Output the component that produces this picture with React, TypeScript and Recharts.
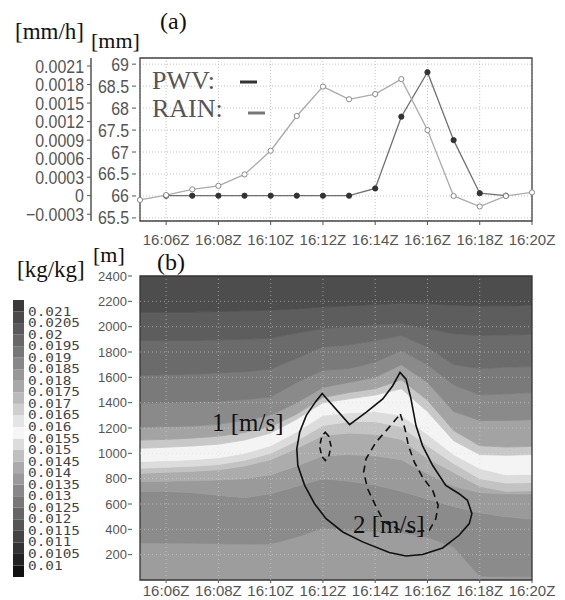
import React from "react";
import {
  Bar,
  BarChart,
  Area,
  CartesianGrid,
  ComposedChart,
  Line,
  ReferenceArea,
  ReferenceLine,
  Scatter,
  XAxis,
  YAxis,
} from "recharts";

// minutes after 16:00
const MINUTES = [5, 6, 7, 8, 9, 10, 11, 12, 13, 14, 15, 16, 17, 18, 19, 20];
const TIME_TICKS = [6, 8, 10, 12, 14, 16, 18, 20];

// panel (a)
const PWV_MM = [65.91, 66.02, 66.15, 66.23, 66.49, 67.03, 67.82, 68.49, 68.2, 68.32, 68.66, 67.5, 66.0, 65.76, 66.0, 66.08];
const RAIN_MMH = [null, 0, 0, 0, 0, 0, 0, 0, 0, 0.000117, 0.00128, 0.002, 0.0009, 0.00004, 0, null];
const PWV_TICKS = [65.5, 66, 66.5, 67, 67.5, 68, 68.5, 69];
const RAIN_TICKS = [-0.0003, 0, 0.0003, 0.0006, 0.0009, 0.0012, 0.0015, 0.0018, 0.0021];
const PWV_DOMAIN = [65.43, 69.14];
const RAIN_DOMAIN = [-0.00041, 0.00223];

// panel (b): heights [m] of the shading boundaries, bottom to top
const HEIGHT_TICKS = [200, 400, 600, 800, 1000, 1200, 1400, 1600, 1800, 2000, 2200, 2400];
const Q_B1 = [293, 292, 290, 287, 283, 285, 340, 410, 390, 385, 375, 340, 260, 30, 25, 25];
const Q_B2 = [700, 700, 690, 670, 650, 680, 740, 800, 780, 750, 700, 640, 580, 530, 500, 480];
const Q_L4 = [777, 780, 785, 790, 800, 830, 900, 980, 990, 980, 950, 840, 740, 690, 680, 680];
const Q_L3 = [843, 850, 858, 870, 900, 950, 1040, 1140, 1160, 1150, 1110, 960, 850, 740, 700, 705];
const Q_L2 = [882, 890, 898, 912, 945, 1000, 1100, 1220, 1250, 1250, 1210, 1060, 920, 800, 765, 770];
const Q_L1 = [935, 942, 950, 965, 1000, 1060, 1170, 1300, 1320, 1330, 1300, 1150, 990, 880, 830, 835];
const Q_U7 = [1040, 1048, 1058, 1072, 1105, 1160, 1270, 1400, 1430, 1460, 1510, 1330, 1100, 990, 985, 990];
const Q_U6 = [1105, 1110, 1120, 1135, 1165, 1210, 1310, 1440, 1480, 1510, 1580, 1420, 1180, 1060, 1050, 1055];
const Q_U5 = [1205, 1210, 1215, 1230, 1260, 1300, 1400, 1520, 1560, 1600, 1700, 1560, 1330, 1260, 1260, 1265];
const Q_U4 = [1395, 1400, 1405, 1410, 1425, 1445, 1560, 1655, 1670, 1720, 1810, 1700, 1540, 1460, 1470, 1480];
const Q_U3 = [1615, 1620, 1625, 1635, 1645, 1665, 1750, 1840, 1855, 1890, 1930, 1840, 1700, 1670, 1680, 1685];
const Q_U2 = [1890, 1890, 1890, 1895, 1900, 1910, 1950, 1985, 2000, 2015, 2025, 1985, 1945, 1930, 1935, 1940];
const Q_U1 = [2115, 2115, 2115, 2120, 2125, 2130, 2140, 2155, 2165, 2175, 2185, 2180, 2170, 2165, 2165, 2170];
const BOUNDS = [Q_B1, Q_B2, Q_L4, Q_L3, Q_L2, Q_L1, Q_U7, Q_U6, Q_U5, Q_U4, Q_U3, Q_U2, Q_U1];
const BAND_COLORS = [
  "#9d9d9d", "#8b8b8b", "#9a9a9a", "#acacac", "#c3c3c3", "#dcdcdc", "#f4f4f4",
  "#c8c8c8", "#a3a3a3", "#8a8a8a", "#7a7a7a", "#6b6b6b", "#5d5d5d", "#4d4d4d",
];

// wind speed contours (t = minutes after 16:00, h = m)
const WIND_1MS = [
  { t: 11.97, h: 1473 }, { t: 13.02, h: 1227 }, { t: 13.65, h: 1324 }, { t: 14.29, h: 1429 },
  { t: 14.67, h: 1534 }, { t: 14.95, h: 1639 }, { t: 15.18, h: 1586 }, { t: 15.37, h: 1429 },
  { t: 15.56, h: 1219 }, { t: 15.81, h: 1061 }, { t: 16.2, h: 904 }, { t: 16.7, h: 747 },
  { t: 17.21, h: 681 }, { t: 17.53, h: 629 }, { t: 17.7, h: 524 }, { t: 17.6, h: 445 },
  { t: 17.21, h: 353 }, { t: 16.58, h: 253 }, { t: 15.81, h: 201 }, { t: 15.18, h: 190 },
  { t: 14.54, h: 217 }, { t: 13.52, h: 301 }, { t: 12.76, h: 379 }, { t: 12.12, h: 484 },
  { t: 11.68, h: 602 }, { t: 11.3, h: 747 }, { t: 11.04, h: 904 }, { t: 11.0, h: 1035 },
  { t: 11.11, h: 1166 }, { t: 11.36, h: 1298 }, { t: 11.72, h: 1408 },
];
const WIND_2MS = [
  { t: 14.96, h: 1311 }, { t: 15.14, h: 1193 }, { t: 15.27, h: 1061 }, { t: 15.5, h: 930 },
  { t: 15.81, h: 812 }, { t: 16.2, h: 707 }, { t: 16.41, h: 589 }, { t: 16.32, h: 484 },
  { t: 16.07, h: 392 }, { t: 15.5, h: 380 }, { t: 14.98, h: 392 }, { t: 14.35, h: 458 },
  { t: 14.07, h: 563 }, { t: 13.71, h: 720 }, { t: 13.56, h: 852 }, { t: 13.65, h: 957 },
  { t: 14.03, h: 1088 }, { t: 14.48, h: 1193 }, { t: 14.8, h: 1271 },
];
const WIND_2MS_SMALL = [
  { t: 12.09, h: 1167 }, { t: 12.22, h: 1135 }, { t: 12.31, h: 1055 }, { t: 12.22, h: 975 },
  { t: 12.09, h: 943 }, { t: 11.96, h: 975 }, { t: 11.87, h: 1055 }, { t: 11.96, h: 1135 },
];

// colour bar, bottom to top
const CBAR_LABELS = [
  "0.01", "0.0105", "0.011", "0.0115", "0.012", "0.0125", "0.013", "0.0135", "0.014", "0.0145",
  "0.015", "0.0155", "0.016", "0.0165", "0.017", "0.0175", "0.018", "0.0185", "0.019", "0.0195",
  "0.02", "0.0205", "0.021",
];
const CBAR_COLORS = [
  "#111111", "#222222", "#333333", "#444444", "#555555", "#666666", "#777777", "#888888",
  "#9a9a9a", "#ababab", "#c0c0c0", "#dcdcdc", "#f6f6f6", "#e4e4e4", "#cecece", "#bababa",
  "#a8a8a8", "#979797", "#878787", "#777777", "#686868", "#595959", "#4a4a4a", "#3a3a3a",
];

const SANS = "'Liberation Sans', Arial, sans-serif";
const SERIF = "'Liberation Serif', 'Times New Roman', serif";
const AXIS_GREY = "#555";

const fmtTime = (v: number) => `16:${String(v).padStart(2, "0")}Z`;
const fmtRain = (v: number) => (v === 0 ? "0" : v < 0 ? "\u2212" + Math.abs(v).toFixed(4) : v.toFixed(4));

function SideTick(props: any) {
  const { x, y, payload, gap, len, pad, size, sx, fmt } = props;
  const label = fmt ? fmt(payload.value) : String(payload.value);
  return (
    <g>
      <line x1={x - gap - len} x2={x - gap} y1={y} y2={y} stroke={AXIS_GREY} strokeWidth={1} />
      <text
        x={0}
        y={0}
        transform={`translate(${x - gap - len - pad},${y}) scale(${sx},1)`}
        textAnchor="end"
        dominantBaseline="central"
        fontSize={size}
        fontFamily={SANS}
        fill={AXIS_GREY}
      >
        {label}
      </text>
    </g>
  );
}

function NoDot() {
  return <g />;
}

function CbarTick(props: any) {
  const { x, y, payload } = props;
  return (
    <text
      x={0}
      y={0}
      transform={`translate(${x + 4},${y}) scale(1.2,1)`}
      dominantBaseline="central"
      fontSize={12}
      fontFamily="'DejaVu Sans Mono', monospace"
      fill="#444"
    >
      {CBAR_LABELS[payload.value - 1]}
    </text>
  );
}

function TopChart() {
  const data = MINUTES.map((t, i) => ({ t, pwv: PWV_MM[i], rain: RAIN_MMH[i] }));
  return (
    <ComposedChart width={565} height={252} data={data} margin={{ top: 58, right: 33, bottom: 0, left: 0 }}>
      <CartesianGrid yAxisId="mm" stroke="#c4c4c4" strokeDasharray="1 2" />
      <XAxis
        dataKey="t"
        type="number"
        domain={[5, 20]}
        ticks={TIME_TICKS}
        interval={0}
        tickFormatter={fmtTime}
        axisLine={false}
        tickSize={4}
        tickMargin={9}
        tickLine={{ stroke: AXIS_GREY }}
        tick={{ fontSize: 15, fill: AXIS_GREY, fontFamily: SANS }}
        height={31}
      />
      <YAxis
        yAxisId="mm"
        domain={PWV_DOMAIN}
        ticks={PWV_TICKS}
        interval={0}
        allowDataOverflow
        width={49}
        axisLine={false}
        tickLine={false}
        tickSize={0}
        tickMargin={0}
        tick={(p: any) => <SideTick {...p} gap={4} len={4} pad={3} size={19} sx={0.84} />}
      />
      <YAxis
        yAxisId="mmh"
        domain={RAIN_DOMAIN}
        ticks={RAIN_TICKS}
        interval={0}
        allowDataOverflow
        width={91}
        axisLine={{ stroke: AXIS_GREY, strokeWidth: 1.5 }}
        tickLine={false}
        tickSize={0}
        tickMargin={0}
        tick={(p: any) => <SideTick {...p} gap={0} len={4} pad={3} size={19} sx={0.84} fmt={fmtRain} />}
      />
      <ReferenceArea yAxisId="mm" x1={5} x2={20} y1={PWV_DOMAIN[0]} y2={PWV_DOMAIN[1]} fill="none" stroke="#444" strokeWidth={1.3} />
      <Line
        yAxisId="mmh"
        dataKey="rain"
        stroke="#707070"
        strokeWidth={1.3}
        dot={{ r: 2.6, fill: "#333", stroke: "#333", strokeWidth: 1 }}
        isAnimationActive={false}
      />
      <Line
        yAxisId="mm"
        dataKey="pwv"
        stroke="#aaaaaa"
        strokeWidth={1.3}
        dot={{ r: 2.6, fill: "#fff", stroke: "#888", strokeWidth: 1 }}
        isAnimationActive={false}
      />
    </ComposedChart>
  );
}

function BottomChart() {
  const data = MINUTES.map((t, i) => {
    const row: any = { t };
    BOUNDS.forEach((b, k) => {
      row[`b${k}`] = b[i];
    });
    return row;
  });
  const last = BAND_COLORS.length - 1;
  return (
    <ComposedChart width={565} height={350} data={data} margin={{ top: 26, right: 33, bottom: 0, left: 0 }}>
      <XAxis
        dataKey="t"
        type="number"
        domain={[5, 20]}
        ticks={TIME_TICKS}
        interval={0}
        tickFormatter={fmtTime}
        axisLine={false}
        tickSize={3}
        tickMargin={2}
        tickLine={{ stroke: AXIS_GREY }}
        tick={{ fontSize: 15, fill: AXIS_GREY, fontFamily: SANS }}
        height={20}
      />
      <YAxis
        domain={[0, 2400]}
        ticks={HEIGHT_TICKS}
        interval={0}
        allowDataOverflow
        width={140}
        axisLine={false}
        tickLine={false}
        tickSize={0}
        tickMargin={0}
        tick={(p: any) => <SideTick {...p} gap={8} len={4} pad={1} size={13} sx={1} />}
      />
      {BAND_COLORS.map((c, k) => (
        <Area
          key={k}
          dataKey={(r: any) => [k === 0 ? 0 : r[`b${k - 1}`], k === last ? 2400 : r[`b${k}`]]}
          type="linear"
          stroke={c}
          strokeWidth={0.8}
          fill={c}
          fillOpacity={1}
          dot={false}
          activeDot={false}
          isAnimationActive={false}
        />
      ))}
      {TIME_TICKS.filter((v) => v < 20).map((v) => (
        <ReferenceLine key={`x${v}`} x={v} stroke="#dddddd" strokeOpacity={0.55} strokeDasharray="1 3" />
      ))}
      {HEIGHT_TICKS.filter((v) => v < 2400).map((v) => (
        <ReferenceLine key={`y${v}`} y={v} stroke="#dddddd" strokeOpacity={0.55} strokeDasharray="1 3" />
      ))}
      <Scatter
        data={WIND_1MS}
        dataKey="h"
        fill="#111"
        line={{ stroke: "#111", strokeWidth: 1.6 }}
        lineJointType="linearClosed"
        shape={<NoDot />}
        isAnimationActive={false}
      />
      <Scatter
        data={WIND_2MS}
        dataKey="h"
        fill="#111"
        line={{ stroke: "#111", strokeWidth: 1.6, strokeDasharray: "7 5" }}
        lineJointType="linearClosed"
        shape={<NoDot />}
        isAnimationActive={false}
      />
      <Scatter
        data={WIND_2MS_SMALL}
        dataKey="h"
        fill="#111"
        line={{ stroke: "#111", strokeWidth: 1.6, strokeDasharray: "6 4" }}
        lineJointType="linearClosed"
        shape={<NoDot />}
        isAnimationActive={false}
      />
      <ReferenceArea x1={5} x2={20} y1={0} y2={2400} fill="none" stroke="#333" strokeWidth={1.3} />
    </ComposedChart>
  );
}

function ColorBar() {
  const row: any = {};
  CBAR_COLORS.forEach((_, i) => {
    row[`s${i}`] = 1;
  });
  return (
    <BarChart width={100} height={300} data={[row]} margin={{ top: 10, right: 0, bottom: 13, left: 13 }} barCategoryGap={0}>
      <XAxis hide />
      <YAxis
        orientation="right"
        domain={[0, 24]}
        ticks={CBAR_LABELS.map((_, i) => i + 1)}
        interval={0}
        width={76}
        axisLine={false}
        tickLine={false}
        tickSize={0}
        tickMargin={0}
        tick={(p: any) => <CbarTick {...p} />}
      />
      {CBAR_COLORS.map((c, i) => (
        <Bar key={i} dataKey={`s${i}`} stackId="c" fill={c} isAnimationActive={false} />
      ))}
    </BarChart>
  );
}

export default function App() {
  return (
    <div style={{ position: "absolute", left: 0, top: 0, width: 565, height: 600, background: "#fff" }}>
      <div style={{ position: "absolute", left: 0, top: 0 }}>
        <TopChart />
      </div>
      <div style={{ position: "absolute", left: 0, top: 250 }}>
        <BottomChart />
      </div>
      <div style={{ position: "absolute", left: 0, top: 290 }}>
        <ColorBar />
      </div>
      <svg width={565} height={600} style={{ position: "absolute", left: 0, top: 0, pointerEvents: "none" }}>
        <g fontFamily={SERIF} fill="#111">
          <text x={160} y={29} fontSize={24}>(a)</text>
          <text x={15} y={39} fontSize={23}>[mm/h]</text>
          <text x={91} y={48} fontSize={22}>[mm]</text>
          <text x={152} y={89} fontSize={26} fill="#555">PWV:</text>
          <text x={152} y={117} fontSize={26} fill="#555">RAIN:</text>
          <text x={17} y={277} fontSize={23}>[kg/kg]</text>
          <text x={93} y={262} fontSize={22}>[m]</text>
          <text x={157} y={270} fontSize={24}>(b)</text>
          <text x={212} y={431} fontSize={25}>1 [m/s]</text>
          <text x={353} y={533} fontSize={25}>2 [m/s]</text>
        </g>
        <line x1={240} x2={257} y1={82} y2={82} stroke="#333" strokeWidth={3} />
        <line x1={248} x2={265} y1={113} y2={113} stroke="#777" strokeWidth={3} />
      </svg>
    </div>
  );
}
